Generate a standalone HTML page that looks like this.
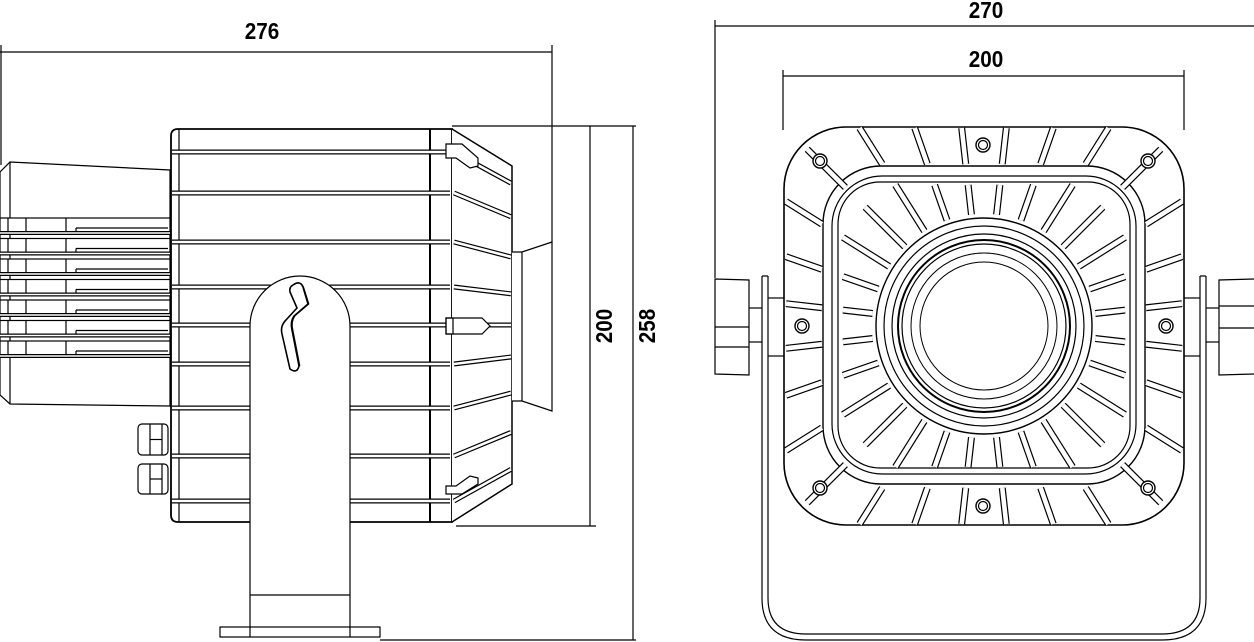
<!DOCTYPE html>
<html><head><meta charset="utf-8"><style>
html,body{margin:0;padding:0;background:#fff;width:1254px;height:642px;overflow:hidden}
svg{display:block}
text{font-family:"Liberation Sans",sans-serif;font-weight:bold;font-size:23px;fill:#000}
</style></head><body>
<svg id="s" width="1254" height="642" viewBox="0 0 1254 642" xmlns="http://www.w3.org/2000/svg" fill="none" stroke="#000" stroke-width="1.2">
<line x1="0" y1="52" x2="552" y2="52"/>
<line x1="1" y1="45" x2="1" y2="165"/>
<line x1="552" y1="45" x2="552" y2="242"/>
<text x="0" y="0" text-anchor="middle" stroke="none" transform="translate(262 39) scale(0.9 1)">276</text>
<line x1="452" y1="126" x2="636" y2="126"/>
<line x1="456" y1="526" x2="596" y2="526"/>
<line x1="380" y1="640" x2="636" y2="640"/>
<line x1="590" y1="126" x2="590" y2="526"/>
<line x1="633" y1="126" x2="633" y2="640"/>
<text x="0" y="0" stroke="none" text-anchor="middle" transform="translate(612 326) rotate(-90) scale(0.9 1)">200</text>
<text x="0" y="0" stroke="none" text-anchor="middle" transform="translate(655 326) rotate(-90) scale(0.9 1)">258</text>

<line x1="715" y1="26" x2="1254" y2="26"/>
<line x1="715" y1="20" x2="715" y2="278"/>
<text x="0" y="0" stroke="none" text-anchor="middle" transform="translate(986 18) scale(0.9 1)">270</text>
<line x1="783" y1="76" x2="1184" y2="76"/>
<line x1="783" y1="70" x2="783" y2="130"/>
<line x1="1184" y1="70" x2="1184" y2="130"/>
<text x="0" y="0" stroke="none" text-anchor="middle" transform="translate(986 67) scale(0.9 1)">200</text>

<g id="left"></g>
<g id="right"></g>
</svg>
<script>
var NS="http://www.w3.org/2000/svg";
function el(g,tag,a){var e=document.createElementNS(NS,tag);for(var k in a)e.setAttribute(k,a[k]);g.appendChild(e);return e;}
var L=document.getElementById('left'),R=document.getElementById('right');
function dl(g,x1,y1,x2,y2,w){el(g,'line',{x1:x1,y1:y1,x2:x2,y2:y2,'stroke-width':w||5,stroke:'#000'});el(g,'line',{x1:x1,y1:y1,x2:x2,y2:y2,'stroke-width':(w||5)-2.4,stroke:'#fff'});}
el(L,'path',{d:'M10 162 L170 170 L170 406 L10 404 L0 395 L0 172 Z',fill:'#fff'});
el(L,'line',{x1:10,y1:162,x2:10,y2:404});
for(var i=0;i<7;i++){var y=218+i*20.5;
 el(L,'rect',{x:0,y:y,width:170,height:14,fill:'#fff'});
 el(L,'line',{x1:8,y1:y,x2:8,y2:y+14});el(L,'line',{x1:26,y1:y,x2:26,y2:y+14});el(L,'line',{x1:66,y1:y,x2:66,y2:y+14});
 el(L,'line',{x1:76,y1:y+10,x2:168,y2:y+10});el(L,'line',{x1:76,y1:y+10,x2:76,y2:y+14});
 dl(L,0,y+15,170,y+15,4);}
[[424,455],[464,494]].forEach(function(g){el(L,'rect',{x:138,y:g[0],width:30,height:g[1]-g[0],rx:4,fill:'#fff'});el(L,'line',{x1:150,y1:g[0],x2:150,y2:g[1]});el(L,'line',{x1:162,y1:g[0],x2:162,y2:g[1]});el(L,'line',{x1:150,y1:(g[0]+g[1])/2,x2:162,y2:(g[0]+g[1])/2});});
el(L,'path',{d:'M178 129 L452 129 L452 522 L178 522 Q171 522 171 515 L171 136 Q171 129 178 129 Z',fill:'#fff','stroke-width':1.8});
el(L,'line',{x1:179,y1:129,x2:179,y2:522});
el(L,'line',{x1:430,y1:129,x2:430,y2:522,'stroke-width':2});
el(L,'path',{d:'M452 129 L512 166 L512 484 L452 522',fill:'#fff','stroke-width':1.5});
var fy=[152,193,242,287,325,364,408,456,501];
fy.forEach(function(y){dl(L,172,y,450,y,5);var y2=325+(y-325)*0.82;dl(L,454,y,511,y2,5);});
el(L,'path',{d:'M512 252 L522 252 L552 242 L552 411 L522 401 L512 401',fill:'#fff'});
el(L,'line',{x1:522,y1:252,x2:522,y2:401});
el(L,'path',{d:'M446 144 L462 144 L478 158 L478 166 L470 168 L456 158 L446 158 Z',fill:'#fff'});
el(L,'path',{d:'M446 494 L462 494 L478 484 L478 478 L470 476 L456 486 L446 486 Z',fill:'#fff'});
el(L,'path',{d:'M446 318 L482 318 L490 326 L482 334 L446 334 Z',fill:'#fff'});
el(L,'rect',{x:446,y:318,width:7,height:16});
el(L,'path',{d:'M250 636 L250 326 A50 50 0 0 1 350 326 L350 636',fill:'#fff'});
el(L,'line',{x1:250,y1:595,x2:350,y2:595});
el(L,'rect',{x:220,y:627,width:160,height:10,fill:'#fff'});
el(L,'line',{x1:250,y1:627,x2:250,y2:637});el(L,'line',{x1:350,y1:627,x2:350,y2:637});
el(L,'path',{d:'M293 285 Q300 280 303 287 L308 304 L294 316 Q290 322 292 330 L299 366 Q297 374 290 369 L282 334 Q280 326 286 320 L297 308 L290 292 Q289 287 293 285 Z','stroke-width':1.6});
el(L,'path',{d:'M294 284 Q301 280 304 288 L309 304 L295 316 Q291 322 293 330 L300 366','stroke-width':0.8});

var cx=984,cy=326;
el(R,'path',{d:'M762 276 L762 598 Q762 640 806 640 L1162 640 Q1206 640 1206 598 L1206 276'});
el(R,'path',{d:'M768 276 L768 598 Q768 634 806 634 L1162 634 Q1200 634 1200 598 L1200 276'});
el(R,'line',{x1:762,y1:276,x2:768,y2:276});el(R,'line',{x1:1200,y1:276,x2:1206,y2:276});
el(R,'line',{x1:768,y1:298,x2:784,y2:298});el(R,'line',{x1:768,y1:356,x2:784,y2:356});
el(R,'line',{x1:1184,y1:298,x2:1200,y2:298});el(R,'line',{x1:1184,y1:356,x2:1200,y2:356});
el(R,'path',{d:'M715 279 L749 280 L749 375 L715 374 Z',fill:'#fff'});
el(R,'line',{x1:749,y1:308,x2:762,y2:308});el(R,'line',{x1:749,y1:342,x2:762,y2:342});
el(R,'line',{x1:715,y1:327,x2:749,y2:327});el(R,'line',{x1:715,y1:347,x2:749,y2:347});
el(R,'path',{d:'M1254 279 L1219 280 L1219 375 L1254 374',fill:'#fff'});
el(R,'line',{x1:1206,y1:308,x2:1219,y2:308});el(R,'line',{x1:1206,y1:342,x2:1219,y2:342});
el(R,'line',{x1:1219,y1:306,x2:1254,y2:306});el(R,'line',{x1:1219,y1:328,x2:1254,y2:328});
el(R,'rect',{x:784,y:127,width:400,height:398,rx:62,fill:'#fff','stroke-width':1.6});
el(R,'rect',{x:823,y:166,width:322,height:318,rx:58,'stroke-width':1.4});
el(R,'rect',{x:832,y:176,width:304,height:298,rx:50});
el(R,'rect',{x:838,y:182,width:292,height:286,rx:42});
function pt(r,cap,a){var c=Math.cos(a),s=Math.sin(a);var t=r/Math.max(Math.abs(c),Math.abs(s));if(t>cap)t=cap;return [cx+t*c,cy+t*s];}
for(var i=0;i<28;i++){var a=(i+0.5)*Math.PI*2/28;var p1=[cx+112*Math.cos(a),cy+112*Math.sin(a)];var p2=pt(141,168,a);dl(R,p1[0],p1[1],p2[0],p2[1],7);}
for(var i=0;i<28;i++){var a=(i+0.5)*Math.PI*2/28;var p1=pt(162,196,a);var p2=pt(198,250,a);dl(R,p1[0],p1[1],p2[0],p2[1],7);}
[[108,1.4],[100,1.2],[92,1.2],[86,2],[82,1.2],[73,1],[64,1]].forEach(function(r){el(R,'circle',{cx:cx,cy:cy,r:r[0],'stroke-width':r[1]});});
[[820,161],[1148,161],[820,488],[1148,488],[983,145],[983,506],[802,326],[1166,326]].forEach(function(p){el(R,'circle',{cx:p[0],cy:p[1],r:7,fill:'#fff','stroke-width':1.4});el(R,'circle',{cx:p[0],cy:p[1],r:4.5});});
</script>
</body></html>
